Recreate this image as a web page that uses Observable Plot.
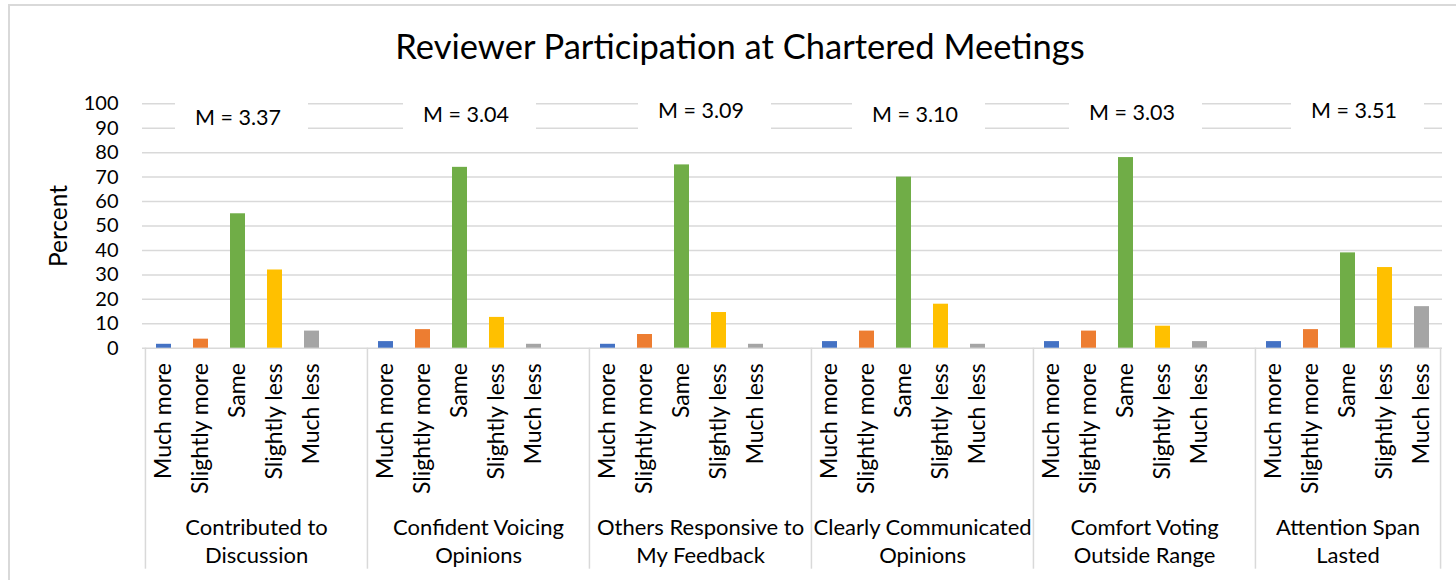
<!DOCTYPE html>
<html>
<head>
<meta charset="utf-8">
<script src="https://cdn.jsdelivr.net/npm/d3@7"></script>
<script src="https://cdn.jsdelivr.net/npm/@observablehq/plot@0.6"></script>
<style>
  html, body { margin: 0; padding: 0; background: white; }
  #page { position: relative; width: 1456px; height: 580px; overflow: hidden; background: white; }
  #frame { position: absolute; left: 8px; top: 4px; width: 1470px; height: 600px; border: 2px solid #d9d9d9; box-sizing: border-box; }
  #title { position: absolute; left: 0; top: 26px; width: 1480px; text-align: center; font-family: Lato, sans-serif; font-size: 34.5px; line-height: 40px; color: #000; }
  #chart { position: absolute; left: 0; top: 80px; }
</style>
</head>
<body>
<div id="page">
  <div id="frame"></div>
  <div id="title">Reviewer Participation at Chartered Meetings</div>
  <div id="chart"></div>
</div>
<script>
// ---- data ----
const responses = ["Much more", "Slightly more", "Same", "Slightly less", "Much less"];
const groupLabels = [
  "Contributed to\nDiscussion",
  "Confident Voicing\nOpinions",
  "Others Responsive to\nMy Feedback",
  "Clearly Communicated\nOpinions",
  "Comfort Voting\nOutside Range",
  "Attention Span\nLasted"
];
const contributed  = [1.6, 3.7, 55, 32, 7];
const confident    = [2.7, 7.6, 74, 12.6, 1.6];
const responsive   = [1.6, 5.6, 75, 14.6, 1.6];
const communicated = [2.7, 7, 70, 18, 1.6];
const comfort      = [2.7, 7, 78, 9, 2.7];
const attention    = [2.7, 7.6, 39, 33, 17];
const meanLabels = ["M = 3.37", "M = 3.04", "M = 3.09", "M = 3.10", "M = 3.03", "M = 3.51"];
const yTicks = [0, 10, 20, 30, 40, 50, 60, 70, 80, 90, 100];
const colors = ["#4472C4", "#ED7D31", "#70AD47", "#FFC000", "#A5A5A5"];

// annotation placement (text boxes in the original, in y data units / pixel shifts)
const meanLabelY = [94.2, 95.4, 96.9, 95.4, 96.1, 96.9];
const meanLabelShift = [0, 6, 19, 11, 6, 6];

// ---- build table ----
const series = [contributed, confident, responsive, communicated, comfort, attention];
const slots = [];
const rows = [];
series.forEach((vals, g) => {
  responses.forEach((r, i) => {
    const key = g + "|" + r;
    slots.push(key);
    rows.push({slot: key, group: g, response: r, value: vals[i]});
  });
  if (g < series.length - 1) slots.push(g + "|");
});
const key = (g, r) => g + "|" + r;
const groupIdx = groupLabels.map((_, i) => i);

// ---- layout ----
const W = 1456, H = 500;
const mL = 142, mR = 14, mT = 23.3, mB = 232.3;
const step = (W - mL - mR) / slots.length;
const pxPerUnit = (H - mT - mB) / 100;
const axisDepth = 221;

const marks = [
  Plot.ruleY(yTicks, {stroke: "#d9d9d9", strokeWidth: 1.5}),
];
groupIdx.forEach(i => {
  marks.push(Plot.barY([i], {x: d => key(d, "Same"), y1: 88, y2: 102, fill: "white",
    insetLeft: -59, insetRight: -59, dx: meanLabelShift[i] + 4}));
  marks.push(Plot.text([i], {x: d => key(d, "Same"), y: d => meanLabelY[d], text: d => meanLabels[d],
    dx: meanLabelShift[i], fill: "#000", fontSize: 21.5}));
});
marks.push(
  Plot.barY(rows, {x: "slot", y: "value", fill: "response"}),
  Plot.ruleX(groupIdx, {x: d => key(d, "Much more"), y1: 0, y2: -axisDepth / pxPerUnit, dx: -step / 2, stroke: "#d9d9d9", strokeWidth: 1.5}),
  Plot.ruleX([groupIdx.length - 1], {x: d => key(d, "Much less"), y1: 0, y2: -axisDepth / pxPerUnit, dx: step / 2, stroke: "#d9d9d9", strokeWidth: 1.5}),
  Plot.axisY({ticks: yTicks, tickSize: 0, tickPadding: 24, label: null, fill: "#000", fontSize: 20}),
  Plot.axisX({tickSize: 0, tickPadding: 15, tickRotate: -90, label: null, fill: "#000", fontSize: 23,
    tickFormat: d => d.split("|")[1]}),
  Plot.text(["Percent"], {frameAnchor: "left", rotate: -90, textAnchor: "middle", dx: -83, fill: "#000", fontSize: 24.5}),
  Plot.text(groupIdx.slice(0, -1), {x: d => key(d, "Same"), frameAnchor: "bottom", text: d => groupLabels[d],
    dx: step / 2, dy: 166, lineAnchor: "top", lineHeight: 1.3, fill: "#000", fontSize: 22}),
  Plot.text(groupIdx.slice(-1), {x: d => key(d, "Same"), frameAnchor: "bottom", text: d => groupLabels[d],
    dy: 166, lineAnchor: "top", lineHeight: 1.3, fill: "#000", fontSize: 22})
);

const chart = Plot.plot({
  width: W, height: H,
  marginLeft: mL, marginRight: mR, marginTop: mT, marginBottom: mB,
  style: {fontFamily: "Lato, sans-serif", fontSize: "23px", color: "#000", background: "transparent", overflow: "visible"},
  x: {domain: slots, paddingInner: 0.6, paddingOuter: 0.3, axis: null},
  y: {domain: [0, 100], axis: null},
  color: {domain: responses, range: colors},
  marks
});
document.getElementById("chart").appendChild(chart);
</script>
</body>
</html>
